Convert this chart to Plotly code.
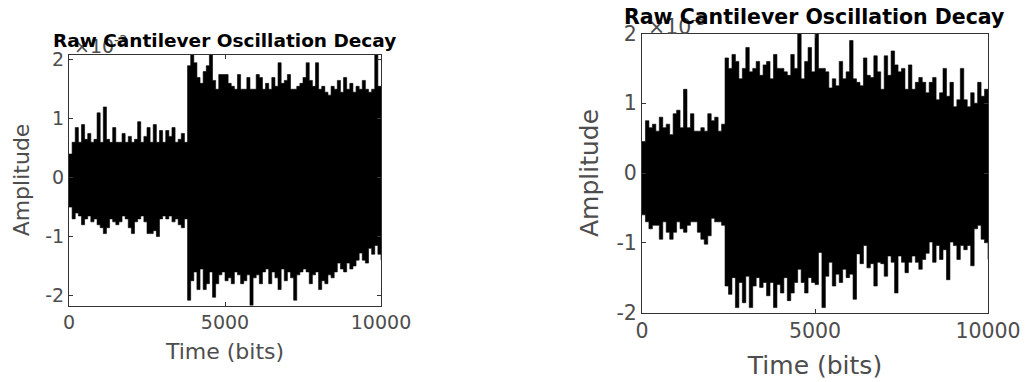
import numpy as np
import plotly.graph_objects as go

# Sample times (bits) at which the envelope of the raw signal was read
TIME_BITS = list(range(0, 10001, 100))

# Amplitudes in units of 1e-3 (axis shows x10^-3)
LEFT_UPPER = [
    0.4, 0.6, 0.85, 0.6, 0.9, 0.65, 0.75, 0.6, 0.65, 1.1,
    0.6, 1.2, 0.65, 0.6, 0.85, 0.6, 0.6, 0.75, 0.6, 0.7,
    0.6, 0.65, 0.95, 0.6, 0.7, 0.85, 0.6, 0.9, 0.6, 0.8,
    0.6, 0.8, 0.7, 0.85, 0.6, 0.65, 0.75, 0.6, 1.9, 2.09,
    1.95, 1.7, 1.6, 1.8, 1.9, 2.09, 1.65, 1.5, 1.75, 1.75,
    1.75, 1.6, 1.55, 1.5, 1.75, 1.5, 1.5, 1.7, 1.5, 1.5,
    1.75, 1.7, 1.5, 1.6, 1.5, 1.7, 1.55, 1.95, 1.6, 1.65,
    1.75, 1.5, 1.5, 1.55, 1.6, 1.7, 1.95, 1.65, 1.55, 1.95,
    1.5, 1.55, 1.45, 1.4, 1.55, 1.5, 1.65, 1.45, 1.7, 1.5,
    1.6, 1.45, 1.55, 1.5, 1.65, 1.5, 1.45, 1.5, 2.09, 1.55,
    1.25,
]
LEFT_LOWER = [
    -0.5, -0.7, -0.6, -0.65, -0.8, -0.7, -0.65, -0.75, -0.7, -0.8,
    -0.85, -0.95, -0.85, -0.7, -0.75, -0.8, -0.75, -0.65, -0.7, -0.85,
    -0.95, -0.75, -0.7, -0.65, -0.75, -0.95, -0.95, -0.9, -1.0, -0.7,
    -0.65, -0.7, -0.65, -0.75, -0.7, -0.8, -0.85, -0.7, -2.08, -1.75,
    -1.6, -1.9, -1.55, -1.9, -1.8, -1.6, -2.03, -1.8, -1.65, -1.6,
    -1.75, -1.7, -1.8, -1.6, -1.65, -1.8, -1.75, -1.65, -2.17, -1.7,
    -1.65, -1.8, -1.6, -1.55, -1.8, -1.6, -1.7, -1.9, -1.55, -1.75,
    -1.6, -1.7, -2.08, -1.65, -1.6, -1.55, -1.6, -1.8, -1.65, -1.6,
    -1.9, -1.75, -1.8, -1.65, -1.7, -1.6, -1.45, -1.55, -1.6, -1.45,
    -1.55, -1.5, -1.4, -1.28, -1.4, -1.45, -1.2, -1.3, -1.15, -1.3,
    -1.4,
]
RIGHT_UPPER = [
    0.45, 0.75, 0.65, 0.7, 0.6, 0.8, 0.65, 0.7, 0.55, 0.85,
    0.9, 0.65, 1.2, 0.65, 0.85, 0.6, 0.6, 0.65, 0.6, 0.85,
    0.75, 0.8, 0.6, 0.7, 1.65, 1.5, 1.7, 1.6, 1.35, 1.5,
    1.8, 1.45, 1.5, 1.6, 1.4, 1.55, 1.6, 1.35, 1.7, 1.5,
    1.5, 1.45, 1.4, 1.7, 1.5, 2.0, 1.35, 1.6, 1.8, 1.45,
    2.0, 1.5, 1.5, 1.45, 1.22, 1.35, 1.25, 1.6, 1.35, 1.45,
    1.9, 1.35, 1.3, 1.25, 1.65, 1.4, 1.37, 1.68, 1.45, 1.2,
    1.68, 1.4, 1.75, 1.55, 1.45, 1.5, 1.2, 1.55, 1.2, 1.3,
    1.37, 1.3, 1.15, 1.3, 1.37, 1.05, 1.15, 1.5, 1.1, 1.3,
    0.95, 1.05, 1.5, 1.05, 0.95, 1.15, 1.0, 1.3, 1.1, 1.2,
    1.15,
]
RIGHT_LOWER = [
    -0.6, -0.7, -0.8, -0.75, -0.75, -0.95, -0.7, -0.85, -0.95, -0.85,
    -0.7, -0.8, -0.85, -0.75, -0.7, -0.7, -0.85, -0.95, -1.02, -0.9,
    -0.65, -0.7, -0.7, -0.75, -1.62, -1.74, -1.5, -1.93, -1.57, -1.86,
    -1.48, -1.93, -1.62, -1.5, -1.64, -1.57, -1.76, -1.57, -1.93, -1.6,
    -1.72, -1.5, -1.83, -1.72, -1.57, -1.38, -1.57, -1.72, -1.5, -1.57,
    -1.6, -1.14, -1.93, -1.48, -1.28, -1.62, -1.45, -1.57, -1.38, -1.5,
    -1.45, -1.81, -1.16, -1.3, -1.04, -1.36, -1.3, -1.62, -1.28, -1.3,
    -1.48, -1.19, -1.28, -1.72, -1.19, -1.28, -1.43, -1.28, -1.19, -1.28,
    -1.38, -1.24, -1.15, -0.99, -1.28, -1.04, -1.24, -1.1, -1.53, -0.99,
    -1.04, -1.24, -1.04, -1.1, -1.04, -1.33, -0.8, -0.75, -0.95, -1.0,
    -1.24,
]

TITLE = "Raw Cantilever Oscillation Decay"
X_LABEL = "Time (bits)"
Y_LABEL = "Amplitude"
X_TICKS = [0, 5000, 10000]
Y_TICKS = [-2, -1, 0, 1, 2]

W, H = 1025, 382
FONT = "DejaVu Sans"
GRAY = "#4d4d4d"
AXC = "#333333"

fig = go.Figure()


def add_panel(upper, lower, xa, ya):
    fig.add_trace(go.Scatter(
        x=TIME_BITS, y=lower, mode="lines", xaxis=xa, yaxis=ya,
        line=dict(color="black", width=0.6, shape="hv"), showlegend=False,
        hoverinfo="skip"))
    fig.add_trace(go.Scatter(
        x=TIME_BITS, y=upper, mode="lines", xaxis=xa, yaxis=ya,
        line=dict(color="black", width=0.6, shape="hv"), fill="tonexty",
        fillcolor="black", showlegend=False, hoverinfo="skip"))


add_panel(LEFT_UPPER, LEFT_LOWER, "x", "y")
add_panel(RIGHT_UPPER, RIGHT_LOWER, "x2", "y2")


def px_x(p):
    return p / W


def px_y(p):
    return 1 - p / H


def xaxis(domain, anchor, size, tsize, standoff):
    return dict(domain=domain, anchor=anchor, range=[0, 10000], automargin=False,
                tickvals=X_TICKS, ticktext=[str(v) for v in X_TICKS],
                ticks="inside", ticklen=4, tickcolor=AXC, mirror="ticks",
                showline=True, linecolor=AXC, linewidth=1, showgrid=False,
                zeroline=False, tickfont=dict(family=FONT, size=size, color=GRAY),
                title=dict(text=X_LABEL, font=dict(family=FONT, size=tsize, color=GRAY),
                           standoff=standoff))


def yaxis(domain, anchor, rng, size, tsize, standoff):
    return dict(domain=domain, anchor=anchor, range=rng, automargin=False,
                tickvals=Y_TICKS, ticktext=[str(v) for v in Y_TICKS],
                ticks="inside", ticklen=4, tickcolor=AXC, mirror="ticks",
                showline=True, linecolor=AXC, linewidth=1, showgrid=False,
                zeroline=False, tickfont=dict(family=FONT, size=size, color=GRAY),
                title=dict(text=Y_LABEL, font=dict(family=FONT, size=tsize, color=GRAY),
                           standoff=standoff))


fig.update_layout(
    width=W, height=H, margin=dict(l=0, r=0, t=0, b=0, autoexpand=False),
    paper_bgcolor="white", plot_bgcolor="white", showlegend=False,
    xaxis=xaxis([px_x(69), px_x(381)], "y", 19, 22, 11),
    yaxis=yaxis([px_y(305.5), px_y(54.5)], "x", [-2.17, 2.09], 19, 22, 9),
    xaxis2=xaxis([px_x(642), px_x(988)], "y2", 20.5, 25, 14),
    yaxis2=yaxis([px_y(312.5), px_y(33.5)], "x2", [-2.0, 2.0], 20.5, 25, 10),
    annotations=[
        dict(text="×10<sup>-3</sup>", xref="paper", yref="paper",
             x=px_x(72), y=px_y(45), xanchor="left", yanchor="middle",
             showarrow=False, font=dict(family=FONT, size=19, color=GRAY)),
        dict(text="×10<sup>-3</sup>", xref="paper", yref="paper",
             x=px_x(646), y=px_y(25), xanchor="left", yanchor="middle",
             showarrow=False, font=dict(family=FONT, size=20.5, color=GRAY)),
        dict(text="<b>" + TITLE + "</b>", xref="paper", yref="paper",
             x=px_x(224), y=px_y(40), xanchor="center", yanchor="middle",
             showarrow=False, font=dict(family=FONT, size=18.5, color="black")),
        dict(text="<b>" + TITLE + "</b>", xref="paper", yref="paper",
             x=px_x(814), y=px_y(17), xanchor="center", yanchor="middle",
             showarrow=False, font=dict(family=FONT, size=20.5, color="black")),
    ],
)

fig.write_html("out.html")
